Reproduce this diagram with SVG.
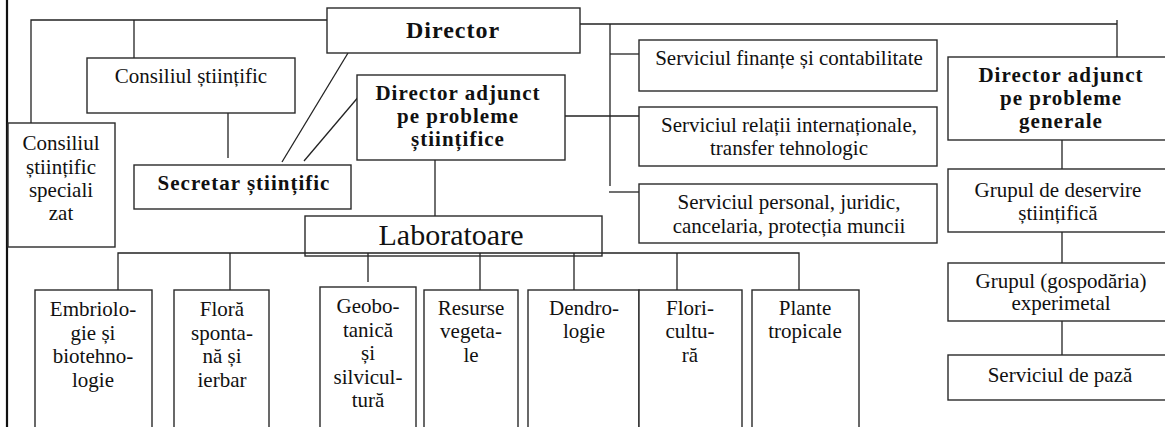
<svg xmlns="http://www.w3.org/2000/svg" width="1165" height="427" viewBox="0 0 1165 427">
<style>
.b{fill:#fff;stroke:#2a2a2a;stroke-width:1.4}
.c{fill:none;stroke:#222;stroke-width:1.3}
text{font-family:"Liberation Serif","Times New Roman",serif;font-size:21px;fill:#111;text-anchor:middle}
.bd{font-weight:bold;letter-spacing:1px}
.dir{font-size:24px}
.lab{font-size:30px}
</style>
<rect width="1165" height="427" fill="#fff"/>
<g id="connectors">
<line x1="7" y1="0" x2="7" y2="427" stroke="#111" stroke-width="2.2"/>
<polyline class="c" points="31,123 31,20 327,20"/>
<line class="c" x1="134" y1="20" x2="134" y2="58"/>
<line class="c" x1="228" y1="113" x2="228" y2="158"/>
<line class="c" x1="348" y1="53" x2="282" y2="162"/>
<line class="c" x1="360" y1="95" x2="304" y2="161"/>
<polyline class="c" points="580,24 1117,24"/>
<line class="c" x1="1117" y1="20" x2="1117" y2="57"/>
<line class="c" x1="610" y1="24" x2="610" y2="186"/>
<line class="c" x1="610" y1="54" x2="639" y2="54"/>
<line class="c" x1="565" y1="116" x2="639" y2="116"/>
<line class="c" x1="609" y1="192" x2="639" y2="192"/>
<line class="c" x1="435" y1="160" x2="435" y2="216"/>
<polyline class="c" points="118,290 118,253 799,253 799,290"/>
<line class="c" x1="230" y1="253" x2="230" y2="290"/>
<line class="c" x1="368" y1="253" x2="368" y2="282"/>
<line class="c" x1="480" y1="253" x2="480" y2="290"/>
<line class="c" x1="574" y1="253" x2="574" y2="290"/>
<line class="c" x1="677" y1="253" x2="677" y2="290"/>
<line class="c" x1="1062" y1="140" x2="1062" y2="175"/>
<line class="c" x1="1062" y1="232" x2="1062" y2="263"/>
<line class="c" x1="1062" y1="318" x2="1062" y2="355"/>
</g>
<g id="director"><rect class="b" x="327" y="8" width="253" height="45"/><text class="bd dir" x="453" y="38">Director</text></g>
<g id="consiliul"><rect class="b" x="87" y="58" width="208" height="55"/><text x="191" y="83">Consiliul științific</text></g>
<g id="consiliul-spec"><rect class="b" x="8" y="123" width="107" height="124"/>
<text x="61" y="150">Consiliul</text><text x="61" y="174">științific</text><text x="61" y="197">speciali</text><text x="61" y="220">zat</text></g>
<g id="secretar"><rect class="b" x="134" y="165" width="217" height="44"/><text class="bd" x="244" y="190">Secretar științific</text></g>
<g id="dir-adj-st"><rect class="b" x="357" y="75" width="208" height="85"/>
<text class="bd" x="458" y="100">Director adjunct</text><text class="bd" x="458" y="123">pe probleme</text><text class="bd" x="458" y="146">științifice</text></g>
<g id="serv-fin"><rect class="b" x="639" y="40" width="298" height="51"/><text x="789" y="65">Serviciul finanțe și contabilitate</text></g>
<g id="serv-rel"><rect class="b" x="639" y="107" width="298" height="59"/><text x="789" y="132">Serviciul relații internaționale,</text><text x="789" y="155">transfer tehnologic</text></g>
<g id="serv-pers"><rect class="b" x="639" y="184" width="298" height="59"/><text x="789" y="209">Serviciul personal, juridic,</text><text x="789" y="233">cancelaria, protecția muncii</text></g>
<g id="dir-adj-gen"><rect class="b" x="948" y="57" width="230" height="83"/>
<text class="bd" x="1061" y="82">Director adjunct</text><text class="bd" x="1061" y="105">pe probleme</text><text class="bd" x="1061" y="128">generale</text></g>
<g id="grup-deserv"><rect class="b" x="948" y="169" width="230" height="63"/><text x="1058" y="197">Grupul de deservire</text><text x="1058" y="220">științifică</text></g>
<g id="grup-gosp"><rect class="b" x="948" y="263" width="230" height="58"/><text x="1061" y="288">Grupul (gospodăria)</text><text x="1061" y="310">experimetal</text></g>
<g id="serv-paza"><rect class="b" x="948" y="355" width="230" height="45"/><text x="1060" y="382">Serviciul de pază</text></g>
<g id="laboratoare"><rect class="b" x="305" y="216" width="297" height="40" fill-opacity="0"/><text class="lab" x="451" y="245">Laboratoare</text></g>
<g id="embriologie"><rect class="b" x="35" y="290" width="117" height="160"/>
<text x="93" y="316">Embriolo-</text><text x="93" y="340">gie și</text><text x="93" y="363">biotehno-</text><text x="93" y="387">logie</text></g>
<g id="flora"><rect class="b" x="174" y="290" width="95" height="160"/>
<text x="222" y="316">Floră</text><text x="222" y="340">sponta-</text><text x="222" y="363">nă și</text><text x="222" y="387">ierbar</text></g>
<g id="geobotanica"><rect class="b" x="320" y="287" width="96" height="160"/>
<text x="368" y="313">Geobo-</text><text x="368" y="337">tanică</text><text x="368" y="360">și</text><text x="368" y="384">silvicul-</text><text x="368" y="407">tură</text></g>
<g id="resurse"><rect class="b" x="424" y="290" width="94" height="160"/>
<text x="471" y="315">Resurse</text><text x="471" y="338">vegeta-</text><text x="471" y="362">le</text></g>
<g id="dendrologie"><rect class="b" x="528" y="290" width="111" height="160"/>
<text x="584" y="315">Dendro-</text><text x="584" y="338">logie</text></g>
<g id="floricultura"><rect class="b" x="639" y="290" width="103" height="160"/>
<text x="690" y="315">Flori-</text><text x="690" y="338">cultu-</text><text x="690" y="362">ră</text></g>
<g id="plante"><rect class="b" x="752" y="290" width="107" height="160"/>
<text x="805" y="315">Plante</text><text x="805" y="338">tropicale</text></g>
</svg>
